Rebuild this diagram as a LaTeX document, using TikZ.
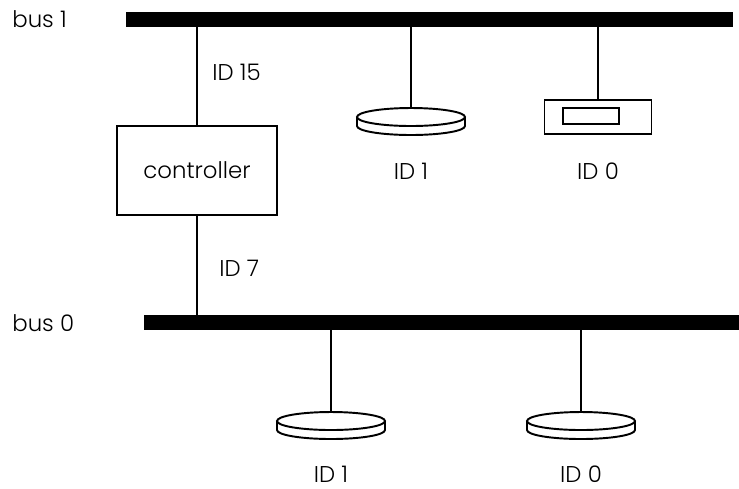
\documentclass[tikz,border=0pt]{standalone}
\usepackage{fontspec}
\setmainfont{Poppins}[UprightFont=* Light]
\usetikzlibrary{positioning,calc}

\tikzset{
  bus/.style={line width=0.3cm},
  wire/.style={line width=1.1pt},
  lbl/.style={font=\fontsize{13}{15}\selectfont, inner sep=0pt},
}

% a disk drive: #1 = name, #2 = centre of its top face
\newcommand{\drive}[2]{%
  \coordinate (#1) at #2;
  \draw[wire, fill=white] (#1) ++(-1.08cm,0) -- ++(0,-0.18cm)
      arc[start angle=180, end angle=360, x radius=1.08cm, y radius=0.18cm]
      -- ++(0,0.18cm);
  \draw[wire, fill=white] (#1) ellipse[x radius=1.08cm, y radius=0.18cm];
  \coordinate (#1top) at ($(#1)+(0,0.18cm)$);
}

\begin{document}
\begin{tikzpicture}[x=0.02cm, y=-0.02cm]
  \useasboundingbox (0,0) rectangle (739,488);

  % buses
  \coordinate (b1w) at (126,19.5);
  \coordinate (b1e) at (733,19.5);
  \coordinate (b0w) at (144,322.5);
  \coordinate (b0e) at (739,322.5);
  \node[lbl, anchor=west] (bus1) at (12,19.5) {bus 1};
  \node[lbl, anchor=west] (bus0) at (12,323) {bus 0};

  % controller
  \node[draw, wire, minimum width=3.2cm, minimum height=1.78cm,
        font=\fontsize{13}{15}\selectfont] (ctrl) at (197,170.5) {controller};
  \draw[wire] (ctrl.north) -- (ctrl.north |- b1w);
  \draw[wire] (ctrl.south) -- (ctrl.south |- b0w);
  \node[lbl, anchor=west] (id15) at (212,72) {ID 15};
  \node[lbl, anchor=west] (id7) at (219,268) {ID 7};

  % devices on bus 1
  \drive{d11}{(411,117)}
  \draw[wire] (d11top) -- (d11top |- b1w);
  \node[lbl] (id11) at (411,171) {ID 1};

  \node[draw, wire, minimum width=2.14cm, minimum height=0.68cm,
        inner sep=0pt] (tape) at (598,117) {};
  \node[draw, wire, minimum width=1.12cm, minimum height=0.32cm,
        inner sep=0pt] (slot) at (591,116) {};
  \draw[wire] (tape.north) -- (tape.north |- b1w);
  \node[lbl] (id10) at (598,171) {ID 0};

  % devices on bus 0
  \drive{d01}{(331,421)}
  \draw[wire] (d01top) -- (d01top |- b0w);
  \node[lbl] (id01) at (331,474) {ID 1};

  \drive{d00}{(581,421)}
  \draw[wire] (d00top) -- (d00top |- b0w);
  \node[lbl] (id00) at (581,474) {ID 0};

  \draw[bus] (b1w) -- (b1e);
  \draw[bus] (b0w) -- (b0e);
\end{tikzpicture}
\end{document}
